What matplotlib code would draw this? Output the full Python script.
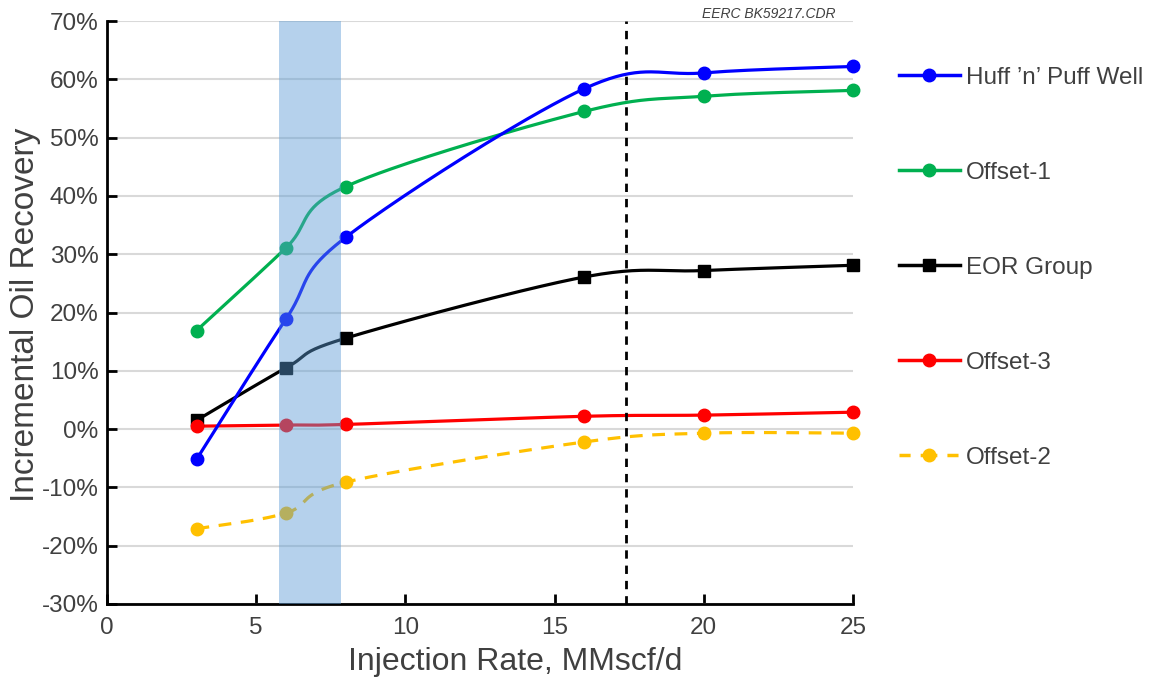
import numpy as np
import matplotlib
matplotlib.use("Agg")
import matplotlib.pyplot as plt
from matplotlib.lines import Line2D
from matplotlib.ticker import PercentFormatter

plt.rcParams["font.family"] = ["Liberation Sans", "DejaVu Sans"]
plt.rcParams["axes.unicode_minus"] = False

rate = [3, 6, 8, 16, 20, 25]
huff = [-5.2, 18.9, 32.9, 58.4, 61.1, 62.2]
offset1 = [16.9, 31.1, 41.6, 54.5, 57.1, 58.1]
eor = [1.5, 10.5, 15.6, 26.1, 27.2, 28.1]
offset3 = [0.5, 0.7, 0.8, 2.2, 2.4, 2.9]
offset2 = [-17.1, -14.4, -9.1, -2.2, -0.7, -0.7]

band = (5.75, 7.85)
marker_line = 17.4

XMIN, XMAX, YMIN, YMAX = 0, 25, -30, 70


def smooth(x, y, n=40):
    # excel-like smoothed line: cubic bezier with control points from neighbours
    sx = 746 / (XMAX - XMIN)
    sy = 583 / (YMAX - YMIN)
    p = np.column_stack([np.asarray(x, float) * sx, np.asarray(y, float) * sy])
    out = [p[0]]
    for i in range(len(p) - 1):
        p0 = p[i - 1] if i > 0 else p[i]
        p3 = p[i + 2] if i + 2 < len(p) else p[i + 1]
        c1 = p[i] + (p[i + 1] - p0) / 6
        c2 = p[i + 1] - (p3 - p[i]) / 6
        t = np.linspace(0, 1, n)[1:, None]
        seg = ((1 - t) ** 3) * p[i] + 3 * ((1 - t) ** 2) * t * c1 + 3 * (1 - t) * t ** 2 * c2 + t ** 3 * p[i + 1]
        out.extend(seg)
    out = np.array(out)
    return out[:, 0] / sx, out[:, 1] / sy


fig = plt.figure(figsize=(11.66, 6.79), dpi=100)
ax = fig.add_axes([107 / 1166, 75 / 679, 746 / 1166, 583 / 679])

series = {
    "huff": ("Huff \u2019n\u2019 Puff Well", huff, "#0000ff", "o", "-"),
    "off1": ("Offset-1", offset1, "#00b050", "o", "-"),
    "eor": ("EOR Group", eor, "#000000", "s", "-"),
    "off3": ("Offset-3", offset3, "#ff0000", "o", "-"),
    "off2": ("Offset-2", offset2, "#ffc000", "o", "--"),
}
draw_order = ["off2", "eor", "off3", "off1", "huff"]
legend_order = ["huff", "off1", "eor", "off3", "off2"]

for key in draw_order:
    name, vals, col, mk, ls = series[key]
    xs, ys = smooth(rate, vals)
    if ls == "--":
        ax.plot(xs, ys, color=col, lw=2.3, ls=(0, (4, 3)), zorder=3, clip_on=False)
    else:
        ax.plot(xs, ys, color=col, lw=2.3, zorder=3, clip_on=False)
    ax.plot(rate, vals, ls="none", marker=mk, ms=9, color=col, zorder=4, clip_on=False)

ax.axvspan(*band, color="#5b9bd5", alpha=0.45, lw=0, zorder=5)
ax.axvline(marker_line, color="black", lw=2, ls=(0, (3, 2.5)), zorder=6)

ax.set_xlim(XMIN, XMAX)
ax.set_ylim(YMIN, YMAX)
ax.set_xticks(range(0, 26, 5))
ax.set_yticks(range(-30, 71, 10))
ax.yaxis.set_major_formatter(PercentFormatter(decimals=0))
ax.grid(axis="y", color="#d9d9d9", lw=1.5, zorder=0)
ax.set_axisbelow(True)
for s in ["top", "right"]:
    ax.spines[s].set_visible(False)
for s in ["left", "bottom"]:
    ax.spines[s].set_linewidth(2)
ax.tick_params(direction="in", length=7, width=2, labelsize=17.5, labelcolor="#404040", pad=6)
ax.tick_params(axis="x", pad=9)
ax.set_xlabel("Injection Rate, MMscf/d", fontsize=23, color="#404040")
ax.xaxis.set_label_coords(0.547, -0.074)
ax.set_ylabel("Incremental Oil Recovery", fontsize=24, color="#404040")
ax.yaxis.set_label_coords(-0.088, 0.496)

fig.text(835 / 1166, 1 - 14 / 679, "EERC BK59217.CDR", ha="right", va="center",
         fontsize=10, style="italic", color="#404040")

handles = []
for key in legend_order:
    name, vals, col, mk, ls = series[key]
    style = (0, (3.2, 2.9, 4.8, 2.9)) if ls == "--" else "-"
    handles.append(Line2D([], [], color=col, lw=2.5, ls=style, marker=mk, ms=9, label=name))
fig.legend(handles=handles, loc="upper left", bbox_to_anchor=(877 / 1166, 1 - 45 / 679),
           frameon=False, fontsize=17.5, labelspacing=3.0, handlelength=2.5, handletextpad=0.25,
           labelcolor="#404040")

fig.savefig("out.png", dpi=100)
